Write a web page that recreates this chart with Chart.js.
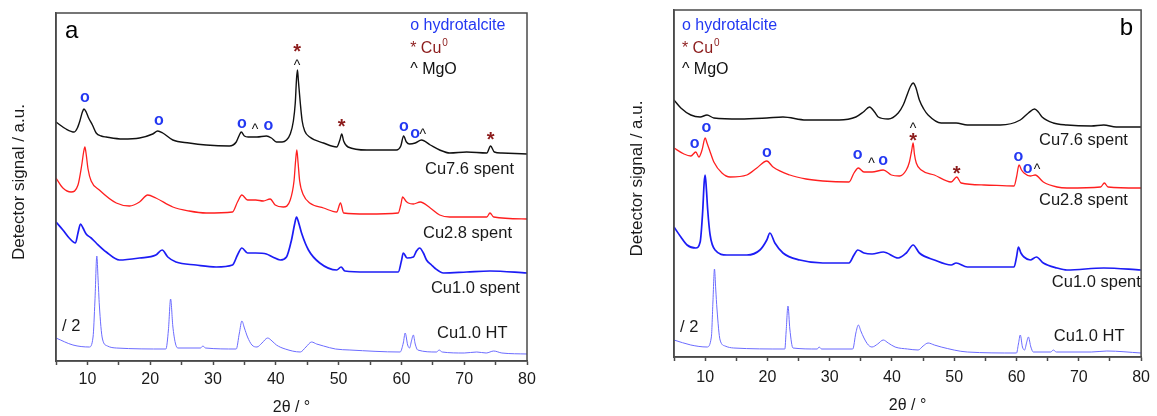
<!DOCTYPE html>
<html>
<head>
<meta charset="utf-8">
<title>XRD patterns</title>
<script src="https://cdn.jsdelivr.net/npm/chart.js@4.4.1/dist/chart.umd.min.js"></script>
<style>
  html, body { margin: 0; padding: 0; background: #fff; }
  #wrap { position: relative; width: 1157px; height: 416px; }
  canvas { position: absolute; top: 0; }
  #left { left: 0; }
  #right { left: 580px; }
</style>
</head>
<body>
<div id="wrap">
  <canvas id="left" width="580" height="416"></canvas>
  <canvas id="right" width="577" height="416"></canvas>
</div>
<script>
// [2theta, stacked intensity] pairs, a.u.
// panel a
const cu76A = [[5,239],[6.6,232],[7.9,229],[8.4,233],[8.8,240],[9.2,249],[9.45,252],[9.8,249],[10.2,243],[10.8,236],[11.4,228],[12.2,225],[13,224],[15.6,222],[18.3,223],[20.4,227],[21.2,230],[22,228],[23.6,221],[26.2,218],[28.9,216],[32.6,215],[33.7,219],[34.2,226],[34.5,229],[35,225],[35.6,224],[37,224],[38.5,225],[39.3,223],[40.1,219],[41,219],[41.7,221],[42.3,227],[42.8,240],[43.1,258],[43.3,282],[43.45,291],[43.6,280],[43.9,258],[44.2,240],[44.6,230],[45.4,224],[47.6,218],[49.7,214],[50.2,221],[50.5,227],[50.8,220],[51.5,214],[54.5,211],[59.2,211],[59.9,215],[60.35,225],[60.8,219],[61.3,217],[62.2,218],[63.2,221],[64.6,216],[66.1,211],[67.7,208],[70.4,209],[73.6,208],[74.2,215],[74.8,209],[76,208],[80,207]];
const cu28A = [[5,183],[6.1,173],[7.4,169],[8.5,176],[9.1,196],[9.4,209],[9.6,214],[9.8,207],[10.1,192],[10.6,180],[11.9,171],[14.6,158],[16.7,155],[18.3,159],[19.6,166],[20.9,163],[23.6,154],[26.2,150],[28.9,148],[33.1,149],[33.9,159],[34.6,166],[35.5,161],[36.8,161],[38,160],[39.1,162],[39.9,156],[41.2,154],[42.3,161],[42.9,180],[43.15,200],[43.35,211],[43.55,198],[43.8,180],[44.4,166],[45.4,158],[47.6,153],[49.7,149],[50.3,158],[50.8,148],[54.5,147],[59.5,148],[59.9,156],[60.2,164],[60.7,160],[61.1,158],[61.9,157],[63,159],[64.6,153],[66.1,146],[67.7,144],[70.4,144],[73.6,144],[74.1,148],[74.7,144],[80,142]];
const cu10A = [[5,139],[6.1,131],[7.1,123],[8.1,118],[8.5,128],[8.9,137],[9.3,133],[9.8,127],[10.6,123],[11.4,118],[13,109],[15.1,101],[18.3,103],[20.9,106],[21.9,111],[22.8,104],[24.1,99],[27.3,96],[30.5,94],[33.1,96],[33.9,106],[34.6,113],[35.5,108],[36.8,108],[38.5,107],[39.5,104],[40.7,101],[41.7,104],[42.5,121],[43,137],[43.3,144],[43.7,137],[44.1,128],[45.2,111],[47,98],[49.7,91],[50.4,94],[51,90],[54.5,89],[59.5,89],[60,100],[60.3,108],[60.9,103],[61.9,104],[62.4,110],[62.9,113],[63.5,108],[64,101],[64.8,96],[65.3,93],[66.7,88],[70.4,89],[74.1,90],[80,88]];
const cu10htA = [[5,23],[7.7,16],[10.3,14],[10.9,24],[11.2,60],[11.5,105],[11.7,82],[11.9,56],[12.4,22],[13.2,15],[14.6,13],[22.5,12],[22.9,31],[23.25,62],[23.6,35],[24,18],[24.4,13],[28,13],[28.4,15],[28.8,13],[33.7,12],[34.2,28],[34.6,40],[35,33],[35.5,24],[36.2,16],[37,14],[37.8,18],[38.7,23],[39.4,20],[40.1,16],[41.5,12],[43.9,9],[44.8,14],[45.7,19],[46.5,17],[47.6,15],[49.5,12],[51.8,11],[59.8,9],[60.3,18],[60.6,28],[61,16],[61.3,13],[61.6,20],[61.9,26],[62.2,17],[62.6,11],[65.6,9],[66,11],[66.5,9],[70,8],[72,9],[73.5,8],[74.7,10],[76,8],[80,7]];

// panel b
const cu76B = [[5,257],[6.1,249],[7.7,242],[9.2,240],[10.3,242],[11.4,239],[15.6,238],[19.9,239],[22.5,240],[26.2,237],[31.5,237],[34.2,240],[35.4,245],[36.4,250],[37.2,245],[37.8,240],[39.4,238],[41,244],[41.8,252],[42.3,260],[43,271],[43.4,274],[43.8,270],[44.4,257],[45.1,248],[45.8,242],[47.9,234],[50.3,234],[52.1,232],[57.4,232],[60.6,237],[61.9,244],[62.9,248],[63.5,245],[64.1,240],[65.9,234],[68.1,232],[72,231],[74,232],[76,230],[80,230]];
const cu28B = [[5,209],[6.6,203],[7.7,201],[8.5,205],[9,200],[9.5,207],[10,219],[10.3,214],[10.7,207],[11.4,195],[12.7,184],[14,180],[16.7,182],[18.3,189],[19.9,196],[20.9,190],[23.6,182],[26.2,178],[28.9,176],[33.1,175],[33.9,184],[34.6,189],[35.5,185],[36.8,185],[38.6,187],[39.9,182],[41.2,181],[42.3,187],[42.8,195],[43.15,206],[43.4,214],[43.6,203],[43.9,194],[44.7,187],[46.8,182],[49.5,175],[50.4,180],[51.1,174],[54.8,172],[59.6,171],[60,180],[60.4,192],[60.8,187],[61.2,184],[62.2,181],[63,182],[64.3,175],[66.5,170],[68.1,169],[73.5,170],[74.1,174],[74.7,170],[80,169]];
const cu10B = [[5,130],[6.1,120],[7.1,112],[8.5,109],[9.2,115],[9.6,145],[9.85,175],[10,182],[10.2,168],[10.4,148],[10.8,122],[11.6,107],[13.5,102],[16.7,102],[18.8,107],[19.9,117],[20.4,124],[21.2,114],[22.5,104],[25.2,97],[28.9,94],[33.1,94],[33.9,102],[34.5,107],[35.5,104],[36.8,103],[38.6,105],[41,99],[42.3,104],[43.4,112],[44.4,104],[46.8,97],[49.5,92],[50.3,94],[52.1,90],[59.6,90],[60,100],[60.3,110],[60.7,104],[61.2,100],[62.2,97],[63.2,100],[64.3,94],[66.5,89],[68.1,87],[74,89],[80,87]];
const cu10htB = [[5,17],[7.7,12],[10.3,10],[11,20],[11.25,55],[11.5,88],[11.7,68],[11.9,48],[12.4,17],[13.2,11],[14.6,9],[22.8,8],[23,25],[23.3,51],[23.6,28],[24.1,9],[28,8],[28.3,10],[28.7,8],[33.7,8],[34.2,24],[34.6,32],[35,26],[35.5,19],[36.2,12],[36.8,10],[37.7,13],[38.6,17],[39.4,14],[40.5,10],[42.5,8],[44.2,7],[45,11],[45.8,14],[46.8,12],[47.9,10],[52.1,5],[60,4],[60.3,13],[60.6,22],[60.95,10],[61.3,7],[61.6,14],[61.9,20],[62.3,10],[62.7,5],[65.5,5],[65.9,7],[66.4,5],[72,5],[74.5,6],[80,4]];

// phase assignments: [symbol, 2theta, height]
const peaksA = [['o',9.6,263],['o',21.4,240],['o',34.6,237],['^',36.7,234],['o',38.8,235],['*',43.4,313],['^',43.4,298],['*',50.5,238],['o',60.4,234],['o',62.2,227],['^',63.4,229],['*',74.2,225]];
const peaksB = [['o',8.3,213],['o',10.2,229],['o',19.9,204],['o',34.5,202],['^',36.7,196],['o',38.6,196],['^',43.4,231],['*',43.4,220],['*',50.4,187],['o',60.3,200],['o',61.8,188],['^',63.3,190]];

const sampleNames = ['Cu7.6 spent', 'Cu2.8 spent', 'Cu1.0 spent', 'Cu1.0 HT'];
const xTicks = [10, 20, 30, 40, 50, 60, 70, 80];

const FONT = "'Liberation Sans', Arial, sans-serif";
const BLUE_MARK = '#2338f2';
const CU_RED = '#8c1c1c';
const FRAME = '#4a4a4a';
const lineColors = ['#111111', '#ff1f1f', '#1c1cf5', '#6b6bff'];
const lineWidths = [1.4, 1.3, 1.7, 1];

const pts = (arr) => arr.map(p => ({x: p[0], y: p[1]}));

const glyphLift = {'o': 0.27, '*': 0.52, '^': 0.5};

const decor = {
    id: 'decor',
    afterDraw(chart, args, o) {
        const ctx = chart.ctx;
        const xs = chart.scales.x, ys = chart.scales.y;
        const a = chart.chartArea;
        const px = (t) => xs.getPixelForValue(t);
        const py = (v) => ys.getPixelForValue(v);
        ctx.save();

        // frame
        ctx.strokeStyle = FRAME;
        ctx.lineWidth = 1.5;
        ctx.strokeRect(a.left, a.top, a.right - a.left, a.bottom - a.top);

        // peak markers
        ctx.textAlign = 'center';
        ctx.textBaseline = 'alphabetic';
        o.peaks.forEach(m => {
            let size = 16, col = BLUE_MARK, w = 'bold ';
            if (m[0] === '*') { size = 20; col = CU_RED; }
            if (m[0] === '^') { size = 14; col = '#111'; w = ''; }
            ctx.font = w + size + 'px ' + FONT;
            ctx.fillStyle = col;
            ctx.fillText(m[0], px(m[1]), py(m[2]) + glyphLift[m[0]] * size);
        });

        // legend
        ctx.textAlign = 'left';
        ctx.textBaseline = 'middle';
        ctx.font = '16px ' + FONT;
        let lx = px(o.legend[0]);
        ctx.fillStyle = BLUE_MARK;
        ctx.fillText('o hydrotalcite', lx, py(o.legend[1]));
        ctx.fillStyle = CU_RED;
        ctx.fillText('* Cu', lx, py(o.legend[2]));
        let cw = ctx.measureText('* Cu').width;
        ctx.font = '10px ' + FONT;
        ctx.fillText('0', lx + cw + 1, py(o.legend[2]) - 6);
        ctx.font = '16px ' + FONT;
        ctx.fillStyle = '#111';
        ctx.fillText('^ MgO', lx, py(o.legend[3]));

        // sample names
        ctx.font = '16.5px ' + FONT;
        ctx.fillStyle = '#1a1a1a';
        o.names.forEach((n, i) => {
            ctx.fillText(sampleNames[i], px(n[0]), py(n[1]));
        });
        ctx.fillText('/ 2', px(o.half[0]), py(o.half[1]));

        // panel letter
        ctx.font = '24px ' + FONT;
        ctx.textBaseline = 'alphabetic';
        ctx.fillStyle = '#000';
        if (o.letterSide === 'left') {
            ctx.textAlign = 'left';
            ctx.fillText(o.letter, a.left + 9, a.top + 25);
        } else {
            ctx.textAlign = 'right';
            ctx.fillText(o.letter, a.right - 8, a.top + 25);
        }

        // axis titles
        ctx.font = '16px ' + FONT;
        ctx.fillStyle = '#1a1a1a';
        ctx.textAlign = 'center';
        ctx.textBaseline = 'middle';
        ctx.fillText('2\u03b8 / \u00b0', (a.left + a.right) / 2, a.bottom + o.xTitleGap);
        ctx.translate(a.left - 37, (a.top + a.bottom) / 2 - 5);
        ctx.rotate(-Math.PI / 2);
        ctx.font = '17px ' + FONT;
        ctx.fillText('Detector signal / a.u.', 0, 0);
        ctx.restore();
    }
};

function makePanel(id, series, cfg) {
    let ctx = document.getElementById(id).getContext('2d');
    return new Chart(ctx, {
        type: 'line',
        data: {
            datasets: series.map((s, i) => ({
                label: sampleNames[i],
                data: pts(s),
                borderColor: lineColors[i],
                borderWidth: lineWidths[i],
                pointRadius: 0,
                fill: false,
                cubicInterpolationMode: 'monotone'
            }))
        },
        options: {
            responsive: false,
            animation: false,
            devicePixelRatio: 1,
            layout: { padding: { top: cfg.top, right: cfg.right, left: 0, bottom: 0 } },
            plugins: {
                legend: { display: false },
                tooltip: { enabled: false },
                decor: cfg.decor
            },
            scales: {
                x: {
                    type: 'linear',
                    min: 5,
                    max: 80,
                    afterFit: (s) => { s.height = cfg.xAxisH; },
                    ticks: {
                        stepSize: 5,
                        autoSkip: false,
                        maxRotation: 0,
                        padding: cfg.tickPad,
                        color: '#1a1a1a',
                        font: { family: FONT, size: 16 },
                        callback: (v) => xTicks.includes(v) ? String(v) : ''
                    },
                    grid: { drawOnChartArea: false, tickLength: 4, tickWidth: 1.5, color: FRAME },
                    border: { color: FRAME, width: 1.5 }
                },
                y: {
                    min: 0,
                    max: cfg.ymax,
                    afterFit: (s) => { s.width = cfg.yAxisW; },
                    ticks: { display: false },
                    grid: { display: false },
                    border: { color: FRAME, width: 1.5 }
                }
            }
        },
        plugins: [decor]
    });
}

makePanel('left', [cu76A, cu28A, cu10A, cu10htA], {
    top: 13, right: 53, xAxisH: 55, yAxisW: 56, ymax: 348, tickPad: 5,
    decor: {
        peaks: peaksA,
        legend: [61.4, 335, 312, 291],
        names: [[63.76, 192], [63.44, 128], [64.7, 73], [65.67, 28]],
        half: [5.96, 35],
        letter: 'a', letterSide: 'left',
        xTitleGap: 47
    }
});

makePanel('right', [cu76B, cu28B, cu10B, cu10htB], {
    top: 10, right: 12, xAxisH: 59, yAxisW: 94, ymax: 347, tickPad: 7,
    decor: {
        peaks: peaksB,
        legend: [6.27, 331, 308, 287],
        names: [[63.6, 217], [63.6, 157], [65.67, 75], [65.99, 21]],
        half: [5.96, 30],
        letter: 'b', letterSide: 'right',
        xTitleGap: 49
    }
});
</script>
</body>
</html>
